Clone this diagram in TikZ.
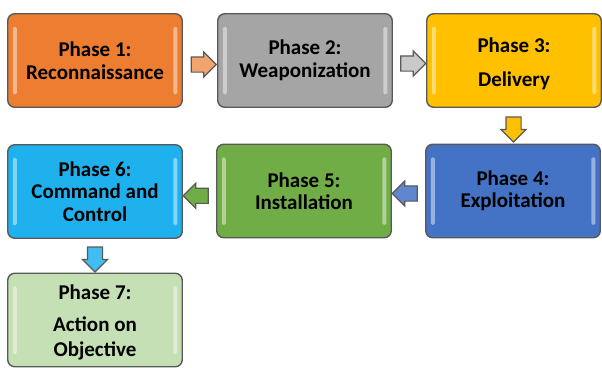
\documentclass[tikz,border=0pt]{standalone}
\usepackage{fontspec}
\setmainfont{Carlito}
\usetikzlibrary{shapes.arrows,calc}
\definecolor{corange}{HTML}{ED7D31}
\definecolor{cgray}{HTML}{A5A5A5}
\definecolor{cyellow}{HTML}{FFC000}
\definecolor{cblue}{HTML}{4472C4}
\definecolor{cgreen}{HTML}{70AD47}
\definecolor{ccyan}{HTML}{1FB1EE}
\definecolor{clgreen}{HTML}{C5E0B4}
\definecolor{cedge}{HTML}{595959}
\begin{document}
\begin{tikzpicture}[x=1pt,y=-1pt,
  phase/.style={draw=cedge, line width=1.4pt, rounded corners=7pt,
    minimum width=174.5pt, minimum height=93.5pt, inner sep=0pt, align=center,
    font=\fontsize{21}{22.5}\selectfont\bfseries,
    path picture={
      \fill[white,opacity=.45,rounded corners=1.5pt]
        ([xshift=5pt,yshift=-13pt]path picture bounding box.north west) rectangle
        ([xshift=9pt,yshift=13pt]path picture bounding box.south west);
      \fill[white,opacity=.45,rounded corners=1.5pt]
        ([xshift=-5pt,yshift=-13pt]path picture bounding box.north east) rectangle
        ([xshift=-9pt,yshift=13pt]path picture bounding box.south east);
    }},
  blk/.style={single arrow, draw=cedge, line width=1.2pt, minimum height=25pt,
    inner xsep=0pt, inner ysep=7pt, single arrow head extend=5pt}]
\useasboundingbox (0,0) rectangle (602,367);
\node[phase, fill=corange] (p1) at (95,60.5) {Phase 1:\\Reconnaissance};
\node[phase, fill=cgray]   (p2) at (305,60.5) {Phase 2:\\Weaponization};
\node[phase, fill=cyellow] (p3) at (514,60.5) {\rule{0pt}{21pt}Phase 3:\\[11.5pt]Delivery};
\node[phase, fill=cblue]   (p4) at (513,191) {Phase 4:\\Exploitation};
\node[phase, fill=cgreen]  (p5) at (304,191) {Phase 5:\\Installation};
\node[phase, fill=ccyan]   (p6) at (95,191.5) {Phase 6:\\Command and\\Control};
\node[phase, fill=clgreen] (p7) at (95,320) {\rule{0pt}{19pt}Phase 7:\\[9.5pt]Action on\\[2.5pt]Objective};
\node[blk, fill=corange!70] (a12) at ($(p1.east)!0.5!(p2.west)+(0,4)$) {};
\node[blk, fill=cgray!60]   (a23) at ($(p2.east)!0.5!(p3.west)+(0,3)$) {};
\node[blk, fill=cyellow, rotate=-90] (a34) at ($(p3.south)!0.5!(p4.north)$) {};
\node[blk, fill=cblue!85, rotate=180] (a45) at ($(p4.west)!0.5!(p5.east)+(0,2.5)$) {};
\node[blk, fill=cgreen, rotate=180]  (a56) at ($(p5.west)!0.5!(p6.east)+(0,4.5)$) {};
\node[blk, fill=ccyan!85, rotate=-90] (a67) at ($(p6.south)!0.5!(p7.north)$) {};
\end{tikzpicture}
\end{document}
